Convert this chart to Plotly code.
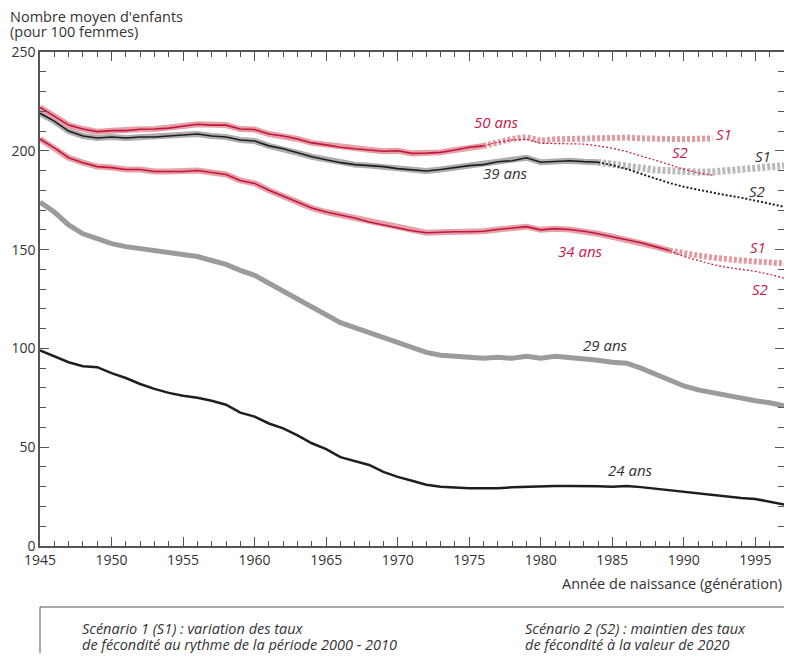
import plotly.graph_objects as go

# Years of birth (generations)
years = list(range(1945, 1998))

# Average number of children per 100 women, by age reached
age24 = [99, 96, 93, 91, 90.5, 87.5, 85, 82, 79.5, 77.5, 76, 75, 73.5, 71.5, 67.5, 65.5, 62, 59.5, 56, 52,
         49, 45, 43, 41, 37.5, 35, 33, 31, 30, 29.5, 29.2, 29.2, 29.2, 29.7, 30, 30.4, 30.4, 30.4, 30.4, 30.2,
         30, 30.4, 29.8, 29, 28.4, 27.5, 26.8, 26, 25.3, 24.3, 23.8, 22.5, 21]
age29 = [174, 169, 162.5, 158, 155.5, 153, 151.5, 150.5, 149.5, 148, 147, 146.5, 144.5, 142.5, 139.5, 137, 133,
         129, 125, 120.5, 116.5, 113, 110.5, 108, 105, 102.5, 100.5, 98, 96.5, 96, 95.5, 95, 95.5, 95, 96, 95,
         96, 95.5, 95, 94, 93, 92.5, 90, 87, 84, 81, 79, 77.5, 76, 74.8, 73.5, 72.5, 71]

years34 = list(range(1945, 1990))
age34 = [206, 201.5, 196.5, 194, 192, 191.5, 190.5, 190.5, 189.5, 189.5, 189.5, 190, 189, 188, 185, 183.5, 180,
         177, 174, 171, 169, 167.5, 166, 164, 162.5, 161, 159.5, 158.5, 158.8, 159, 159, 159.3, 160.2, 160.8,
         161.6, 160, 160.6, 160.2, 159.3, 158, 156.5, 155, 153.5, 151.5, 149.5]
years34_proj = list(range(1989, 1998))
age34_s1 = [149.5, 148, 147, 146, 145, 144.5, 144, 143.5, 143]
age34_s2 = [149.5, 146.5, 144.5, 142.5, 141, 140, 139, 137.5, 135.5]

years39 = list(range(1945, 1985))
age39 = [219, 215, 210, 207.5, 206.5, 207, 206.5, 207, 207, 207.5, 207.8, 208.5, 207.5, 207, 205.5, 205, 202.5,
         201, 199, 197, 195.5, 194, 193, 192.5, 192, 191, 190.3, 189.8, 190.5, 191.5, 192.5, 193, 194.5, 195,
         196.5, 194.2, 194.5, 195, 194.5, 194.2]
years39_proj = list(range(1984, 1998))
age39_s1 = [194.2, 193.5, 192.3, 191.3, 190.3, 189.8, 189.5, 189.2, 189.3, 190, 190.8, 191.5, 192, 192.5]
age39_s2 = [194.2, 192.7, 190.8, 188.6, 186, 183.7, 181.8, 180.3, 178.8, 177.5, 176.3, 174.8, 173.3, 171.7]

years50 = list(range(1945, 1977))
age50 = [222, 217.5, 213, 211, 209.7, 210.2, 210.2, 210.9, 211, 211.5, 212.5, 213.4, 213, 213, 211, 210.8, 208.5,
         207.5, 206, 204, 203, 201.8, 201, 200.5, 199.8, 200, 198.7, 198.8, 199.2, 200.4, 201.8, 202.5]
years50_proj = list(range(1976, 1993))
age50_s1 = [202.5, 204.5, 206, 206.9, 205.1, 205.8, 206, 206.3, 206.8, 206.9, 206.7, 206.3, 206, 205.8, 205.9,
            206.1, 206.3]
age50_s2 = [202.5, 204.3, 205.5, 205.8, 203.8, 203.6, 203.5, 203.4, 202.5, 201.3, 199.6, 197.5, 195.3, 193, 190.7,
            188.8, 187.6]

# Series labels: (text, year, value, colour)
labels = [("50 ans", 1976.9, 214.6, "red"), ("S1", 1992.8, 208.5, "red"), ("S2", 1989.7, 199.4, "red"),
          ("S1", 1995.5, 197.4, "dark"), ("39 ans", 1977.5, 188.8, "dark"), ("S2", 1995.1, 179.7, "dark"),
          ("34 ans", 1982.8, 149.3, "red"), ("S1", 1995.2, 151.3, "red"), ("S2", 1995.35, 130.1, "red"),
          ("29 ans", 1984.5, 101.7, "dark"), ("24 ans", 1986.3, 38.5, "dark")]

# Text lines outside the plot
y_title = ["Nombre moyen d'enfants", "(pour 100 femmes)"]
x_title = "Année de naissance (génération)"
scenario1 = ["Scénario 1 (S1) : variation des taux", "de fécondité au rythme de la période 2000 - 2010"]
scenario2 = ["Scénario 2 (S2) : maintien des taux", "de fécondité à la valeur de 2020"]

RED = "#c4143f"
RED_LIGHT = "#e4a1a7"
RED_DASH = "#e39a9d"
GREY = "#9b9b9d"
GREY_LIGHT = "#adadaf"
GREY_DASH = "#b9b9bb"
DARK = "#1e1e1e"
TXT = {"red": "#c8194b", "dark": "#333333"}
FONT = "Open Sans, sans-serif"

fig = go.Figure()


def line(x, y, color, width, dash="solid"):
    fig.add_trace(go.Scatter(x=x, y=y, mode="lines", line=dict(color=color, width=width, dash=dash),
                             hoverinfo="skip", showlegend=False))


def note(text, x, yshift, xanchor="left", xshift=0, size=14.5):
    fig.add_annotation(xref="paper", yref="paper", x=x, y=0 if yshift < 0 else 1, yshift=yshift, xshift=xshift,
                       xanchor=xanchor, yanchor="middle", showarrow=False, text=text,
                       font=dict(family=FONT, size=size, color="#333333"))


# Observed series
line(years, age24, DARK, 2.5)
line(years, age29, GREY, 5)
line(years34, age34, RED_LIGHT, 6)
line(years34, age34, RED, 1.6)
line(years39, age39, GREY_LIGHT, 6)
line(years39, age39, DARK, 1.6)
line(years50, age50, RED_LIGHT, 6)
line(years50, age50, RED, 1.6)

# Projections: scenario 1 thick dashed, scenario 2 thin dotted
line(years34_proj, age34_s1, RED_DASH, 6, "3px,2px")
line(years34_proj, age34_s2, RED, 1.2, "2px,2px")
line(years39_proj, age39_s1, GREY_DASH, 7, "3px,2px")
line(years39_proj, age39_s2, DARK, 2, "2px,2px")
line(years50_proj, age50_s1, RED_DASH, 6, "3px,2px")
line(years50_proj, age50_s2, RED, 1.2, "2px,2px")

for text, x, y, c in labels:
    fig.add_annotation(x=x, y=y, text="<i>" + text + "</i>", showarrow=False,
                       font=dict(family=FONT, size=15, color=TXT[c]))

# Axis titles
note(y_title[0], 0, 36, xshift=-32)
note(y_title[1], 0, 21, xshift=-32)
note(x_title, 1, -37, xanchor="right")

# Scenario box below the chart
fig.add_shape(type="rect", xref="paper", yref="paper", x0=0, x1=1.05, y0=-0.3, y1=-0.1235,
              line=dict(color="#555555", width=1), fillcolor="rgba(0,0,0,0)")
note("<i>" + scenario1[0] + "</i>", 0.054, -82)
note("<i>" + scenario1[1] + "</i>", 0.054, -98)
note("<i>" + scenario2[0] + "</i>", 0.649, -82)
note("<i>" + scenario2[1] + "</i>", 0.649, -98)

# The page adds an 8px body margin, so the figure is kept inside the window to avoid scrollbars
fig.update_layout(
    width=776, height=645,
    margin=dict(l=32, r=0, t=44, b=107),
    paper_bgcolor="white", plot_bgcolor="white",
    font=dict(family=FONT, size=14, color="#333333"),
    showlegend=False,
    xaxis=dict(range=[1945, 1997], tickmode="linear", tick0=1945, dtick=5, ticks="inside", ticklen=9,
               tickcolor="#555555", showline=True, linecolor="#555555", linewidth=1.5, mirror="ticks",
               showgrid=False, zeroline=False, automargin=False,
               minor=dict(dtick=1, ticks="inside", ticklen=5, tickcolor="#555555", showgrid=False)),
    yaxis=dict(range=[0, 250], tickmode="linear", tick0=0, dtick=50, ticks="inside", ticklen=9,
               tickcolor="#555555", showline=True, linecolor="#555555", linewidth=1.5, mirror="ticks",
               showgrid=False, zeroline=False, automargin=False,
               minor=dict(dtick=10, ticks="inside", ticklen=6, tickcolor="#555555", showgrid=False)),
)

fig.write_html("out.html")
